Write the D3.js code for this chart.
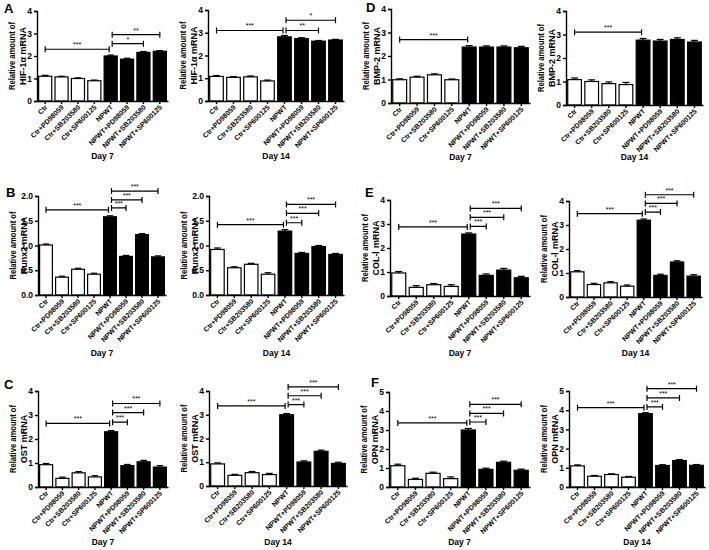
<!DOCTYPE html>
<html>
<head>
<meta charset="utf-8">
<script src="https://cdn.jsdelivr.net/npm/d3@7"></script>
<style>
  body { margin: 0; background: #fff; }
  svg { display: block; font-family: "Liberation Sans", Arial, sans-serif; font-weight: bold; }
</style>
</head>
<body>
<div id="chart"></div>
<script>
// groups on the x axis (same for every panel)
const categories = ["Ctr", "Ctr+PD98059", "Ctr+SB203580", "Ctr+SP600125",
    "NPWT", "NPWT+PD98059", "NPWT+SB203580", "NPWT+SP600125"];

// HIF-1a
const hif7 = [1.10, 1.07, 1.00, 0.90, 2.00, 1.86, 2.16, 2.21];
const hif7Err = [0.04, 0.03, 0.03, 0.03, 0.04, 0.04, 0.04, 0.03];
const hif14 = [1.08, 1.04, 1.06, 0.88, 2.82, 2.74, 2.63, 2.68];
const hif14Err = [0.04, 0.03, 0.04, 0.04, 0.06, 0.04, 0.03, 0.03];
// BMP-2
const bmp7 = [0.99, 1.10, 1.20, 0.99, 2.38, 2.38, 2.38, 2.35];
const bmp7Err = [0.04, 0.04, 0.04, 0.03, 0.06, 0.05, 0.05, 0.06];
const bmp14 = [1.08, 1.00, 0.91, 0.87, 2.76, 2.72, 2.79, 2.68];
const bmp14Err = [0.07, 0.07, 0.07, 0.09, 0.07, 0.07, 0.07, 0.07];
// Runx2
const runx7 = [1.01, 0.36, 0.52, 0.42, 1.58, 0.78, 1.22, 0.77];
const runx7Err = [0.02, 0.02, 0.02, 0.02, 0.02, 0.02, 0.02, 0.02];
const runx14 = [0.92, 0.55, 0.62, 0.42, 1.29, 0.84, 0.98, 0.82];
const runx14Err = [0.03, 0.02, 0.02, 0.03, 0.03, 0.02, 0.02, 0.02];
// COL-I
const col7 = [0.96, 0.36, 0.47, 0.40, 2.58, 0.86, 1.08, 0.76];
const col7Err = [0.06, 0.07, 0.05, 0.07, 0.05, 0.06, 0.07, 0.06];
const col14 = [1.05, 0.52, 0.59, 0.45, 3.20, 0.90, 1.46, 0.87];
const col14Err = [0.05, 0.05, 0.05, 0.05, 0.05, 0.05, 0.05, 0.06];
// OST
const ost7 = [0.93, 0.36, 0.59, 0.42, 2.30, 0.89, 1.05, 0.83];
const ost7Err = [0.05, 0.05, 0.05, 0.05, 0.05, 0.05, 0.06, 0.06];
const ost14 = [0.93, 0.45, 0.56, 0.48, 3.00, 1.01, 1.46, 0.95];
const ost14Err = [0.04, 0.04, 0.05, 0.05, 0.05, 0.05, 0.05, 0.05];
// OPN
const opn7 = [1.12, 0.40, 0.72, 0.44, 3.00, 0.93, 1.30, 0.88];
const opn7Err = [0.08, 0.06, 0.06, 0.09, 0.08, 0.06, 0.06, 0.06];
const opn14 = [1.10, 0.56, 0.65, 0.51, 3.82, 1.12, 1.38, 1.13];
const opn14Err = [0.05, 0.04, 0.04, 0.04, 0.05, 0.04, 0.05, 0.04];

// significance brackets: [from index, to index, height, label]
const hif7Sig = [[0, 4, 2.3, "***"], [4, 6, 2.55, "*"], [4, 7, 2.95, "**"]];
const hif14Sig = [[0, 4, 3.1, "***"], [4, 6, 3.1, "**"], [4, 7, 3.55, "*"]];
const bmp7Sig = [[0, 4, 2.7, "***"]];
const bmp14Sig = [[0, 4, 3.1, "***"]];
const runx7Sig = [[0, 4, 1.72, "***"], [4, 5, 1.76, "***"], [4, 6, 1.92, "***"], [4, 7, 2.1, "***"]];
const runx14Sig = [[0, 4, 1.42, "***"], [4, 5, 1.46, "***"], [4, 6, 1.65, "***"], [4, 7, 1.83, "***"]];
const col7Sig = [[0, 4, 2.88, "***"], [4, 5, 2.9, "***"], [4, 6, 3.28, "***"], [4, 7, 3.65, "***"]];
const col14Sig = [[0, 4, 3.47, "***"], [4, 5, 3.54, "***"], [4, 6, 3.9, "***"], [4, 7, 4.26, "***"]];
const ost7Sig = [[0, 4, 2.65, "***"], [4, 5, 2.7, "***"], [4, 6, 3.1, "***"], [4, 7, 3.48, "***"]];
const ost14Sig = [[0, 4, 3.37, "***"], [4, 5, 3.43, "***"], [4, 6, 3.8, "***"], [4, 7, 4.17, "***"]];
const opn7Sig = [[0, 4, 3.37, "***"], [4, 5, 3.42, "***"], [4, 6, 3.87, "***"], [4, 7, 4.35, "***"]];
const opn14Sig = [[0, 4, 4.13, "***"], [4, 5, 4.17, "***"], [4, 6, 4.64, "***"], [4, 7, 5.12, "***"]];

// y axis ticks
const ticks4 = [0, 1, 2, 3, 4];
const ticks2 = [0, 0.5, 1.0, 1.5, 2.0];
const ticks5 = [0, 1, 2, 3, 4, 5];

const width = 709;
const height = 550;

// panel layout: left axis x, right end, pixel of top tick, pixel of zero
const panels = [
    {letter: "A", lx: 4, ly: 13, gene: "HIF-1\u03b1  mRNA", day: "Day 7", values: hif7, err: hif7Err, sig: hif7Sig, ticks: ticks4, fmt: "d", x0: 37, x1: 168, top: 11, bottom: 101, dayY: 159},
    {gene: "HIF-1\u03b1  mRNA", day: "Day 14", values: hif14, err: hif14Err, sig: hif14Sig, ticks: ticks4, fmt: "d", x0: 208, x1: 344, top: 10, bottom: 101, dayY: 159},
    {letter: "D", lx: 366, ly: 12, gene: "BMP-2 mRNA", day: "Day 7", values: bmp7, err: bmp7Err, sig: bmp7Sig, ticks: ticks4, fmt: "d", x0: 391, x1: 530, top: 9, bottom: 103, dayY: 160},
    {gene: "BMP-2 mRNA", day: "Day 14", values: bmp14, err: bmp14Err, sig: bmp14Sig, ticks: ticks4, fmt: "d", x0: 566, x1: 703, top: 11, bottom: 105, dayY: 160},
    {letter: "B", lx: 6, ly: 197, gene: "Runx2 mRNA", day: "Day 7", values: runx7, err: runx7Err, sig: runx7Sig, ticks: ticks2, fmt: ".1f", x0: 38, x1: 166, top: 196, bottom: 295, dayY: 356},
    {gene: "Runx2 mRNA", day: "Day 14", values: runx14, err: runx14Err, sig: runx14Sig, ticks: ticks2, fmt: ".1f", x0: 209, x1: 344, top: 196, bottom: 295, dayY: 356},
    {letter: "E", lx: 365, ly: 197, gene: "COL-\u2160  mRNA", day: "Day 7", values: col7, err: col7Err, sig: col7Sig, ticks: ticks4, fmt: "d", x0: 390, x1: 530, top: 200, bottom: 296, dayY: 356},
    {gene: "COL-\u2160  mRNA", day: "Day 14", values: col14, err: col14Err, sig: col14Sig, ticks: ticks4, fmt: "d", x0: 569, x1: 702, top: 201, bottom: 297, dayY: 356},
    {letter: "C", lx: 4, ly: 389, gene: "OST mRNA", day: "Day 7", values: ost7, err: ost7Err, sig: ost7Sig, ticks: ticks4, fmt: "d", x0: 38, x1: 168, top: 391, bottom: 487, dayY: 545},
    {gene: "OST mRNA", day: "Day 14", values: ost14, err: ost14Err, sig: ost14Sig, ticks: ticks4, fmt: "d", x0: 209, x1: 347, top: 391, bottom: 486, dayY: 545},
    {letter: "F", lx: 371, ly: 387, gene: "OPN mRNA", day: "Day 7", values: opn7, err: opn7Err, sig: opn7Sig, ticks: ticks5, fmt: "d", x0: 389, x1: 530, top: 392, bottom: 487, dayY: 545},
    {gene: "OPN mRNA", day: "Day 14", values: opn14, err: opn14Err, sig: opn14Sig, ticks: ticks5, fmt: "d", x0: 569, x1: 705, top: 391, bottom: 487, dayY: 545}
];

const svg = d3.select("#chart").append("svg")
    .attr("width", width)
    .attr("height", height);

panels.forEach(p => drawPanel(svg.append("g"), p));

function drawPanel(g, p) {
    const yMax = p.ticks[p.ticks.length - 1];

    const x = d3.scaleBand()
        .domain(categories)
        .range([p.x0, p.x1])
        .paddingInner(0.2)
        .paddingOuter(0.1);

    const y = d3.scaleLinear()
        .domain([0, yMax])
        .range([p.bottom, p.top]);

    // bars
    g.append("g")
        .selectAll("rect")
        .data(p.values)
        .join("rect")
            .attr("x", (d, i) => x(categories[i]))
            .attr("y", d => y(d))
            .attr("width", x.bandwidth())
            .attr("height", d => y(0) - y(d))
            .attr("fill", (d, i) => i < 4 ? "#fff" : "#000")
            .attr("stroke", "#000")
            .attr("stroke-width", 1.2);

    // error bars (upper half only)
    const cap = x.bandwidth() * 0.25;
    const errG = g.append("g")
        .attr("stroke", "#000")
        .attr("stroke-width", 1.2);
    p.values.forEach((v, i) => {
        const cx = x(categories[i]) + x.bandwidth() / 2;
        errG.append("line")
            .attr("x1", cx).attr("x2", cx)
            .attr("y1", y(v)).attr("y2", y(v + p.err[i]));
        errG.append("line")
            .attr("x1", cx - cap).attr("x2", cx + cap)
            .attr("y1", y(v + p.err[i])).attr("y2", y(v + p.err[i]));
    });

    // y axis
    g.append("g")
        .attr("transform", `translate(${p.x0},0)`)
        .call(d3.axisLeft(y).tickValues(p.ticks).tickFormat(d3.format(p.fmt)).tickSize(3).tickPadding(2))
        .call(a => a.selectAll("path, line").attr("stroke-width", 1.4))
        .call(a => a.selectAll("text").attr("font-size", 8.5).attr("font-weight", "bold"));

    // x axis, labels turned 45 degrees
    g.append("g")
        .attr("transform", `translate(0,${p.bottom})`)
        .call(d3.axisBottom(x).tickSize(3).tickSizeOuter(0))
        .call(a => a.selectAll("path, line").attr("stroke-width", 1.4))
        .call(a => a.selectAll("text")
            .attr("font-size", 7)
            .attr("font-weight", "bold")
            .attr("text-anchor", "end")
            .attr("x", 0)
            .attr("y", 0)
            .attr("dy", "0.35em")
            .attr("transform", "translate(1,5) rotate(-45)"));

    // y label
    const cy = (p.top + p.bottom) / 2;
    g.append("text")
        .attr("transform", `translate(${p.x0 - 25},${cy}) rotate(-90)`)
        .attr("text-anchor", "middle")
        .attr("dy", "0.35em")
        .attr("font-size", 9)
        .attr("textLength", 68)
        .attr("lengthAdjust", "spacingAndGlyphs")
        .text("Relative amount of");
    g.append("text")
        .attr("transform", `translate(${p.x0 - 14},${cy}) rotate(-90)`)
        .attr("text-anchor", "middle")
        .attr("dy", "0.35em")
        .attr("font-size", 9)
        .text(p.gene);

    // day label
    g.append("text")
        .attr("x", (p.x0 + p.x1) / 2)
        .attr("y", p.dayY)
        .attr("text-anchor", "middle")
        .attr("font-size", 8.5)
        .text(p.day);

    // significance brackets
    const sigG = g.append("g");
    p.sig.forEach(s => {
        let xa = x(categories[s[0]]) + x.bandwidth() / 2;
        let xb = x(categories[s[1]]) + x.bandwidth() / 2;
        if (s[0] === 4) xa += 1.5;
        if (s[1] === 4) xb -= 1.5;
        const yy = y(s[2]);
        sigG.append("path")
            .attr("d", `M${xa},${yy - 3}V${yy + 3}M${xa},${yy}H${xb}M${xb},${yy - 3}V${yy + 3}`)
            .attr("fill", "none")
            .attr("stroke", "#000")
            .attr("stroke-width", 1.2);
        sigG.append("text")
            .attr("x", (xa + xb) / 2)
            .attr("y", yy - 2)
            .attr("text-anchor", "middle")
            .attr("font-size", 7)
            .attr("font-weight", "normal")
            .text(s[3]);
    });

    // panel letter
    if (p.letter) {
        g.append("text")
            .attr("x", p.lx)
            .attr("y", p.ly)
            .attr("font-size", 13)
            .text(p.letter);
    }
}
</script>
</body>
</html>
